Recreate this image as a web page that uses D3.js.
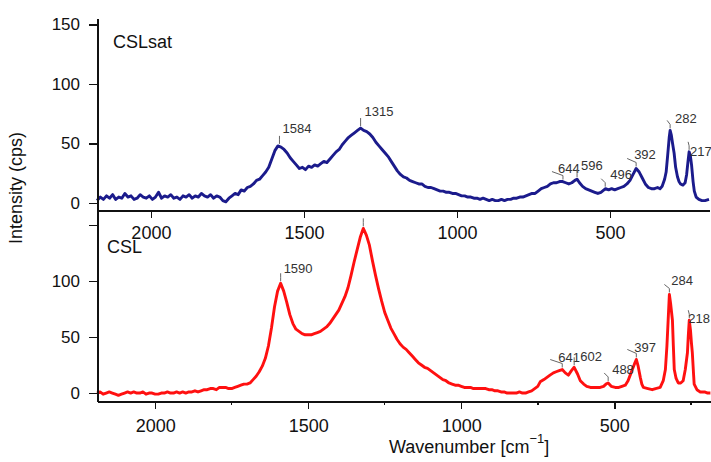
<!DOCTYPE html>
<html lang="en">
<head>
<meta charset="UTF-8">
<title>Raman spectra CSLsat / CSL</title>
<script src="https://d3js.org/d3.v7.min.js"></script>
<style>
    html, body {
        margin: 0;
        padding: 0;
        background: #fff;
    }
    text {
        font-family: "Liberation Sans", Arial, sans-serif;
        fill: #111;
    }
    .axis path, .axis line {
        stroke: #111;
        shape-rendering: crispEdges;
    }
    .axis path { stroke-width: 2px; }
    .axis line { stroke-width: 1.5px; }
    .peak text { font-size: 13px; fill: #333; }
    .peak polyline { fill: none; stroke: #666; stroke-width: 1px; }
</style>
</head>
<body>
<script>

// CSLsat spectrum (top panel)
var topWave = [2176,2165,2155,2145,2135,2125,2115,2105,2095,2085,2075,2065,2055,2045,2035,2025,2015,2005,1995,1985,
    1975,1965,1955,1945,1935,1925,1915,1905,1895,1885,1875,1865,1855,1845,1835,1825,1815,1805,1795,1785,
    1775,1765,1755,1745,1735,1725,1715,1705,1695,1685,1675,1665,1655,1645,1635,1625,1615,1605,1595,1585,
    1575,1565,1555,1545,1535,1525,1515,1505,1495,1485,1475,1465,1455,1445,1435,1425,1415,1405,1395,1385,
    1375,1365,1355,1345,1335,1325,1315,1305,1295,1285,1275,1265,1255,1245,1235,1225,1215,1205,1195,1185,
    1175,1165,1155,1145,1135,1125,1115,1105,1095,1085,1075,1065,1055,1045,1035,1025,1015,1005,995,985,
    975,965,955,945,935,925,915,905,895,885,875,865,855,845,835,825,815,805,795,785,
    775,765,755,745,735,725,715,705,695,685,675,665,655,645,635,625,615,608,600,590,
    580,570,560,550,540,530,520,515,505,495,485,475,465,455,445,435,425,415,405,395,
    385,375,365,355,345,337,330,322,317,312,307,304,300,296,291,286,280,275,270,262,
    255,250,246,242,238,234,229,225,219,210,200,190,177];
var topInt = [2,5,3,6,4,7,3,5,4,8,5,6,3,4,7,5,4,6,3,5,
    9,4,6,5,7,4,5,3,6,5,7,4,6,5,8,6,5,7,4,6,
    5,2,1,4,6,8,7,11,10,13,14,16,19,20,23,26,30,37,44,48,
    47,45,42,38,35,32,29,30,28,31,30,32,31,33,35,34,37,40,43,45,
    49,52,55,57,59,61,63,61,60,58,55,51,48,45,42,39,35,31,27,24,
    22,21,19,18,17,16,16,14,13,13,12,11,10,10,9,9,8,8,7,6,
    6,5,5,4,4,3,4,3,2,3,2,2,3,2,3,3,4,4,5,5,
    6,7,8,8,10,12,13,14,16,17,17,18,18,17,16,17,19,20,17,14,
    12,11,10,9,8,9,11,12,11,12,11,12,13,14,16,19,24,29,26,21,
    16,13,12,12,13,12,14,20,26,40,55,61,57,50,42,30,22,18,16,15,
    17,24,34,43,40,32,18,10,5,3,2,2,3];

// CSL spectrum (bottom panel)
var botWave = [2190,2180,2170,2160,2150,2140,2130,2120,2110,2100,2090,2080,2070,2060,2050,2040,2030,2020,2010,2000,
    1990,1980,1970,1960,1950,1940,1930,1920,1910,1900,1890,1880,1870,1860,1850,1840,1830,1820,1810,1800,
    1790,1780,1770,1760,1750,1740,1730,1720,1710,1700,1690,1680,1670,1660,1650,1640,1630,1620,1610,1600,
    1590,1580,1570,1560,1550,1540,1530,1520,1510,1500,1490,1480,1470,1460,1450,1440,1430,1420,1410,1400,
    1390,1380,1370,1360,1350,1340,1330,1320,1310,1300,1290,1280,1270,1260,1250,1240,1230,1220,1210,1200,
    1190,1180,1170,1160,1150,1140,1130,1120,1110,1100,1090,1080,1070,1060,1050,1040,1030,1020,1010,1000,
    990,980,970,960,950,940,930,920,910,900,890,880,870,860,850,840,830,820,810,800,
    790,780,770,760,750,742,730,720,710,699,690,680,670,660,650,640,631,620,611,600,
    590,578,560,546,535,527,520,510,497,485,475,464,455,448,441,434,428,422,415,410,
    405,390,376,365,350,340,333,328,324,320,316,310,307,304,298,291,283,275,268,261,
    258,255,251,248,245,241,239,230,219,205,195,186];
var botInt = [0,1,-1,0,1,0,-1,-2,-1,0,1,0,1,0,0,1,-1,0,0,-1,
    -1,0,0,1,0,0,1,0,1,0,1,1,2,1,2,3,3,4,4,3,
    5,5,5,4,4,5,6,7,8,8,9,12,15,19,24,31,42,58,77,91,
    98,91,81,70,62,57,55,53,52,52,52,53,54,55,57,59,62,66,70,74,
    80,86,94,105,117,128,139,147,141,132,118,105,93,82,72,65,58,53,48,44,
    41,39,36,33,30,27,25,23,22,20,18,16,14,12,11,9,8,7,7,6,
    5,5,5,4,4,4,4,4,3,3,2,2,1,1,0,0,0,0,1,0,
    0,1,2,4,6,10,12,14,16,18,19,20,21,18,16,20,23,17,11,8,
    6,5,5,5,6,8,9,6,5,5,6,7,11,16,21,26,30,24,14,8,
    5,4,3,4,5,11,21,42,65,88,80,65,42,21,13,9,9,11,21,36,
    52,65,56,45,36,17,8,3,1,1,0,0];

// peak labels: text, where the apex sits on the axis, apex height
var topPeakText = ["1584","1315","644","596","496","392","282","217"];
var topPeakWave = [1580,1315,654,608,516,415,304,242];
var topPeakInt  = [48,63,18,20,12,29,61,43];
var botPeakText = ["1590","","641","602","488","397","284","218"];
var botPeakWave = [1590,1320,670,631,520,428,320,255];
var botPeakInt  = [98,147,21,23,9,30,88,65];

var xTicks = [2000,1500,1000,500];
var xMinor = [1750,1250,750,250];
var yTicks = [0,50,100,150];
var panelNames = ["CSLsat","CSL"];

var width = 711, height = 462;
var left = 97;

var svg = d3.select("body").append("svg")
    .attr("width", width).attr("height", height);

var xTop = d3.scaleLinear().domain([2176, 177]).range([left, 709]);
var yTop = d3.scaleLinear().domain([-5.9, 155.5]).range([210, 18]);
var xBot = d3.scaleLinear().domain([2190, 184]).range([left, 711]);
var yBot = d3.scaleLinear().domain([-7.1, 163.4]).range([401, 210]);

// leader shape + text offset per label (dx of slanted end, text dx, text dy)
var topLead = [[0,3,-13],[0,4,-12],[-11,-5,-9],[0,4,-9],[-4,5,-10],[-9,-2,-9],[-3,5,-7],[-1,1,4]];
var botLead = [[0,3,-10],[0,0,0],[-12,-4,-8],[0,6,-6],[-4,4,-9],[-9,-2,-7],[-5,2,-9],[-1,-1,3]];

function drawPanel(x, y, wave, inten, color, axisY, tickPad, minor, yFmt, peaks, lead) {
    var pts = wave.map(function(w, i) { return [w, inten[i]]; });
    var line = d3.line()
        .x(function(d) { return x(d[0]); })
        .y(function(d) { return y(d[1]); });

    svg.append("path")
        .attr("d", line(pts))
        .attr("fill", "none")
        .attr("stroke", color)
        .attr("stroke-width", 2.9)
        .attr("stroke-linejoin", "round");

    var g = svg.append("g").attr("class", "peak");
    peaks.text.forEach(function(t, i) {
        var px = x(peaks.wave[i]), py = y(peaks.int[i]);
        var l = lead[i];
        g.append("polyline")
            .attr("points", [[px, py - 2], [px, py - 6], [px + l[0], py - 10]].join(" "));
        if (t) {
            g.append("text")
                .attr("x", px + l[1])
                .attr("y", py + l[2])
                .text(t);
        }
    });

    var xa = svg.append("g").attr("class", "axis")
        .attr("transform", "translate(0," + axisY + ")")
        .call(d3.axisBottom(x).tickValues(xTicks).tickFormat(d3.format("d"))
            .tickSize(8).tickSizeOuter(0).tickPadding(tickPad));
    xa.selectAll("text").style("font-size", "18px");
    if (minor) {
        xa.selectAll(".minor").data(xMinor).enter().append("line")
            .attr("x1", function(d) { return x(d); })
            .attr("x2", function(d) { return x(d); })
            .attr("y1", 0).attr("y2", 4);
    }

    var ya = svg.append("g").attr("class", "axis")
        .attr("transform", "translate(" + left + ",0)")
        .call(d3.axisLeft(y).tickValues(yTicks).tickSize(8).tickSizeOuter(0).tickPadding(9).tickFormat(yFmt));
    ya.selectAll("text").style("font-size", "17px");
}

drawPanel(xTop, yTop, topWave, topInt, "#1b1b8c", 210, 8, false,
    function(d) { return d; },
    {text: topPeakText, wave: topPeakWave, int: topPeakInt}, topLead);

drawPanel(xBot, yBot, botWave, botInt, "#ff1010", 401, 10, true,
    function(d) { return d === 150 ? "" : d; },
    {text: botPeakText, wave: botPeakWave, int: botPeakInt}, botLead);

// panel names
svg.append("text").attr("x", 113).attr("y", 48).style("font-size", "18px").text(panelNames[0]);
svg.append("text").attr("x", 107).attr("y", 253).style("font-size", "18px").text(panelNames[1]);

// axis titles
svg.append("text")
    .attr("transform", "translate(22,188) rotate(-90)")
    .attr("text-anchor", "middle")
    .style("font-size", "18px")
    .text("Intensity (cps)");

var xt = svg.append("text")
    .attr("x", 389).attr("y", 453)
    .style("font-size", "18px");
xt.append("tspan").text("Wavenumber [cm");
xt.append("tspan").attr("dy", -10).style("font-size", "13px").text("\u22121");
xt.append("tspan").attr("dy", 10).text("]");

</script>
</body>
</html>
